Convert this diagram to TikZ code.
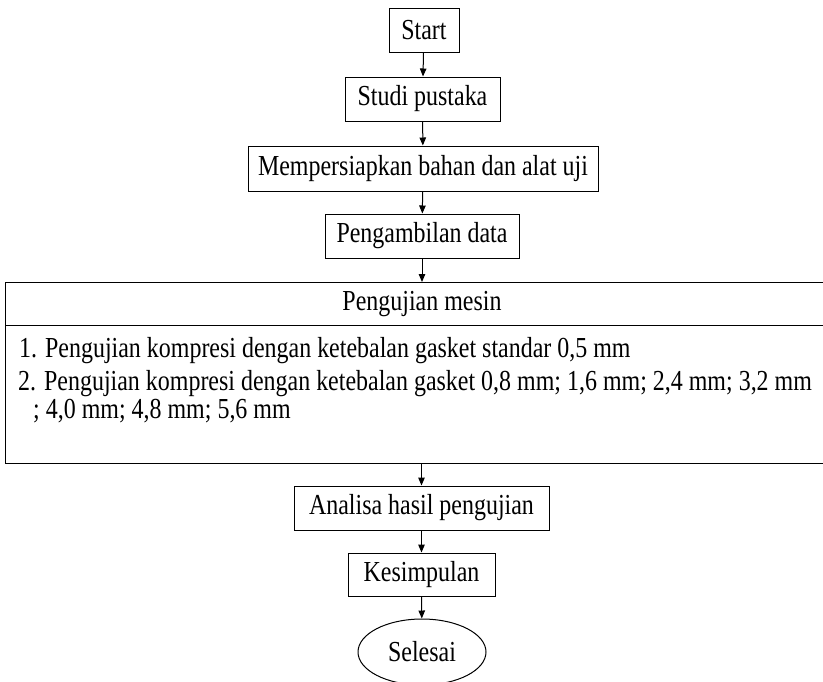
\documentclass[tikz,border=0pt]{standalone}
\usepackage{fontspec}
\setmainfont[FakeStretch=0.826]{Liberation Serif}
\usetikzlibrary{shapes.geometric,arrows.meta}
\begin{document}
\begin{tikzpicture}[x=1pt,y=-1pt,
  box/.style={draw,line width=1pt,rectangle,inner sep=0pt,font=\fontsize{29}{33}\selectfont},
  lbl/.style={inner sep=0pt,font=\fontsize{29}{33}\selectfont},
  arr/.style={-{Triangle[length=8pt,width=6.5pt]},line width=1pt}]
\useasboundingbox (0,0) rectangle (823,681);
\clip (0,0) rectangle (823,681);
\node[box,minimum width=70pt,minimum height=44pt] (start) at (424,30) {Start};
\node[box,minimum width=155pt,minimum height=44pt] (studi) at (422.5,99) {Studi pustaka};
\node[box,minimum width=350pt,minimum height=45pt] (siap) at (423,168.5) {Mempersiapkan bahan dan alat uji};
\node[box,minimum width=194pt,minimum height=44pt] (ambil) at (422,236) {Pengambilan data};
\node[box,anchor=north west,minimum width=830pt,minimum height=181pt] (uji) at (5,282) {};
\coordinate (div) at (5,325);
\draw[line width=1pt] (div) -- (div -| uji.east);
\node[lbl] (head) at (422,304) {Pengujian mesin};
\node[lbl,anchor=base west] (l1) at (19,357) {1. Pengujian kompresi dengan ketebalan gasket standar 0,5 mm};
\node[lbl,anchor=base west] (l2) at (18,390) {2. Pengujian kompresi dengan ketebalan gasket 0,8 mm; 1,6 mm; 2,4 mm; 3,2 mm};
\node[lbl,anchor=base west] (l3) at (33,418) {; 4,0 mm; 4,8 mm; 5,6 mm};
\node[box,minimum width=255pt,minimum height=44pt] (analisa) at (421.5,508) {Analisa hasil pengujian};
\node[box,minimum width=147pt,minimum height=43pt] (simpul) at (421.5,574.5) {Kesimpulan};
\node[box,ellipse,minimum width=128pt,minimum height=66pt] (selesai) at (422,652) {Selesai};
\draw[arr] (start) -- (studi);
\draw[arr] (studi) -- (siap);
\draw[arr] (siap) -- (ambil);
\draw[arr] (ambil.south) -- (ambil.south |- uji.north);
\draw[arr] (analisa.north |- uji.south) -- (analisa.north);
\draw[arr] (analisa) -- (simpul);
\draw[arr] (simpul) -- (selesai);
\end{tikzpicture}
\end{document}
